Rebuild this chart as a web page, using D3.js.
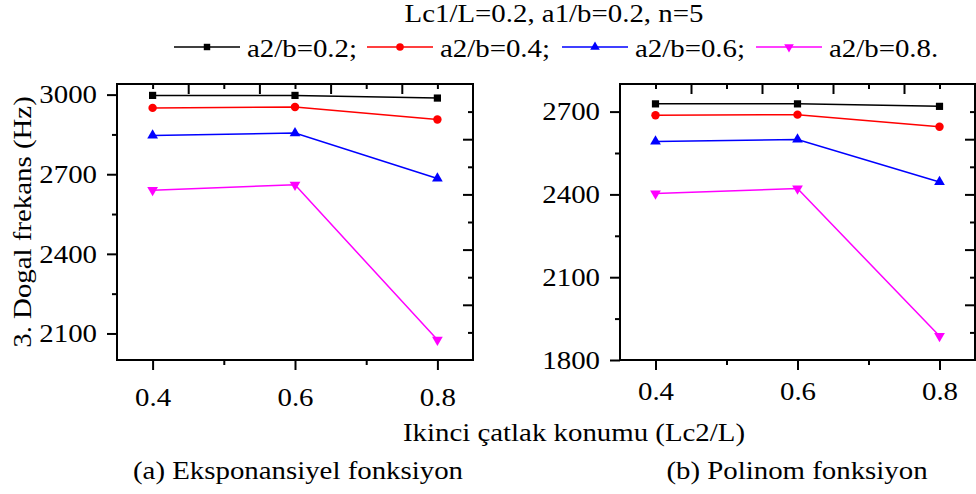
<!DOCTYPE html>
<html><head><meta charset="utf-8">
<script src="https://cdn.jsdelivr.net/npm/d3@7"></script>
<style>
body{margin:0;background:#fff}
text{font-family:"Liberation Serif","Times New Roman",serif;fill:#000}
</style></head>
<body><svg id="c" width="976" height="494"></svg>
<script>
// ---- data ----
const xValues = [0.4, 0.6, 0.8];
const seriesLabels = ["a2/b=0.2;", "a2/b=0.4;", "a2/b=0.6;", "a2/b=0.8."];
const seriesColors = ["#000000", "#ff0000", "#0000ff", "#ff00ff"];
const seriesSymbols = ["square", "circle", "triangle", "triangleDown"];
const expValues02 = [2997, 2997, 2987];
const expValues04 = [2950, 2953, 2906];
const expValues06 = [2846, 2855, 2684];
const expValues08 = [2640, 2660, 2076];
const polyValues02 = [2728, 2728, 2719];
const polyValues04 = [2687, 2689, 2645];
const polyValues06 = [2592, 2599, 2445];
const polyValues08 = [2403, 2421, 1887];
const expYTicks = [2100, 2400, 2700, 3000];
const expYMinor = [2250, 2550, 2850];
const polyYTicks = [1800, 2100, 2400, 2700];
const polyYMinor = [1950, 2250, 2550];
const rightMajor = [2000, 2200, 2400, 2600];
const rightMinor = [1900, 2100, 2300, 2500, 2700];
const xTicks = [0.4, 0.6, 0.8];
const xMinor = [0.5, 0.7];
const topMajor = [0.45, 0.55, 0.65, 0.75];
const topMinor = [0.4, 0.5, 0.6, 0.7, 0.8];
const titleText = "Lc1/L=0.2, a1/b=0.2, n=5";
const yTitle = "3. Dogal frekans (Hz)";
const xTitle = "Ikinci çatlak konumu (Lc2/L)";
const captions = ["(a) Eksponansiyel fonksiyon", "(b) Polinom fonksiyon"];

const FS = 26, SX = 1.11;
const svg = d3.select("#c");

function txt(x, y, s, anchor, rot) {
  const g = svg.append("g").attr("transform", `translate(${x},${y})` + (rot ? ` rotate(${rot})` : "") + ` scale(${SX},1)`);
  g.append("text").attr("text-anchor", anchor || "middle").style("font-size", FS + "px").text(s);
}

function symPath(name, size) {
  if (name === "square") return d3.symbol(d3.symbolSquare, size)();
  if (name === "circle") return d3.symbol(d3.symbolCircle, size)();
  return d3.symbol(d3.symbolTriangle, size)();
}
const symSize = {square: 52, circle: 56, triangle: 50, triangleDown: 50};

const panels = [
  {left: 117, right: 473, top: 84, bottom: 360, yDomain: [2000, 3040], yMajor: expYTicks, yMinor: expYMinor,
   series: [expValues02, expValues04, expValues06, expValues08], labelBase: 406},
  {left: 620, right: 975, top: 84, bottom: 360, yDomain: [1800, 2800], yMajor: polyYTicks, yMinor: polyYMinor,
   series: [polyValues02, polyValues04, polyValues06, polyValues08], labelBase: 400}
];

panels.forEach((p, pi) => {
  const x = d3.scaleLinear().domain([0.35, 0.85]).range([p.left, p.right]);
  const y = d3.scaleLinear().domain(p.yDomain).range([p.bottom, p.top]);
  const yR = d3.scaleLinear().domain([1800, 2800]).range([p.bottom, p.top]);
  const g = svg.append("g");

  function axisDraw(axis, tx, ty) {
    const a = g.append("g").attr("transform", `translate(${tx},${ty})`).call(axis);
    a.select(".domain").remove();
    a.selectAll(".tick line").attr("stroke", "#000").attr("stroke-width", 2);
    return a;
  }
  // left axis major
  const la = axisDraw(d3.axisLeft(y).tickValues(p.yMajor).tickSize(10).tickPadding(8).tickFormat(d3.format("d")), p.left, 0);
  la.selectAll(".tick text").style("font-size", FS + "px").attr("font-family", null)
    .attr("transform", `scale(${SX},1)`).attr("fill", "#000");
  axisDraw(d3.axisLeft(y).tickValues(p.yMinor).tickSize(5).tickFormat(""), p.left, 0);
  // right axis (inward)
  axisDraw(d3.axisRight(yR).tickValues(rightMajor).tickSize(-10).tickFormat(""), p.right, 0);
  axisDraw(d3.axisRight(yR).tickValues(rightMinor).tickSize(-5).tickFormat(""), p.right, 0);
  // bottom axis
  const ba = axisDraw(d3.axisBottom(x).tickValues(xTicks).tickSize(10).tickFormat(d3.format(".1f")), 0, p.bottom);
  ba.selectAll(".tick text").style("font-size", FS + "px").attr("dy", null)
    .attr("y", p.labelBase - p.bottom).attr("transform", `scale(${SX},1)`).attr("fill", "#000");
  axisDraw(d3.axisBottom(x).tickValues(xMinor).tickSize(5).tickFormat(""), 0, p.bottom);
  // top axis (inward)
  axisDraw(d3.axisTop(x).tickValues(topMajor).tickSize(-10).tickFormat(""), 0, p.top);
  axisDraw(d3.axisTop(x).tickValues(topMinor).tickSize(-5).tickFormat(""), 0, p.top);

  // frame
  g.append("rect").attr("x", p.left).attr("y", p.top).attr("width", p.right - p.left).attr("height", p.bottom - p.top)
    .attr("fill", "none").attr("stroke", "#000").attr("stroke-width", 2);

  const line = d3.line().x((d, i) => x(xValues[i])).y(d => y(d));
  p.series.forEach((vals, si) => {
    g.append("path").datum(vals).attr("d", line).attr("fill", "none")
      .attr("stroke", seriesColors[si]).attr("stroke-width", 1.5);
    const sym = seriesSymbols[si];
    g.selectAll(null).data(vals).enter().append("path")
      .attr("d", symPath(sym, symSize[sym]))
      .attr("transform", (d, i) => `translate(${x(xValues[i])},${y(d)})` + (sym === "triangleDown" ? " rotate(180)" : ""))
      .attr("fill", seriesColors[si]);
  });
});

// title
txt(554, 22, titleText, "middle");
// legend
const legendStarts = [174, 367, 562, 756];
legendStarts.forEach((lx, i) => {
  svg.append("line").attr("x1", lx).attr("x2", lx + 66).attr("y1", 47).attr("y2", 47)
    .attr("stroke", seriesColors[i]).attr("stroke-width", 1.5);
  const sym = seriesSymbols[i];
  svg.append("path").attr("d", symPath(sym, symSize[sym] * 0.8))
    .attr("transform", `translate(${lx + 33},47)` + (sym === "triangleDown" ? " rotate(180)" : ""))
    .attr("fill", seriesColors[i]);
  txt(lx + 73, 57, seriesLabels[i], "start");
});
// axis titles
txt(31, 222, yTitle, "middle", -90);
txt(574, 441, xTitle, "middle");
txt(298, 479, captions[0], "middle");
txt(797, 479, captions[1], "middle");
</script></body></html>
